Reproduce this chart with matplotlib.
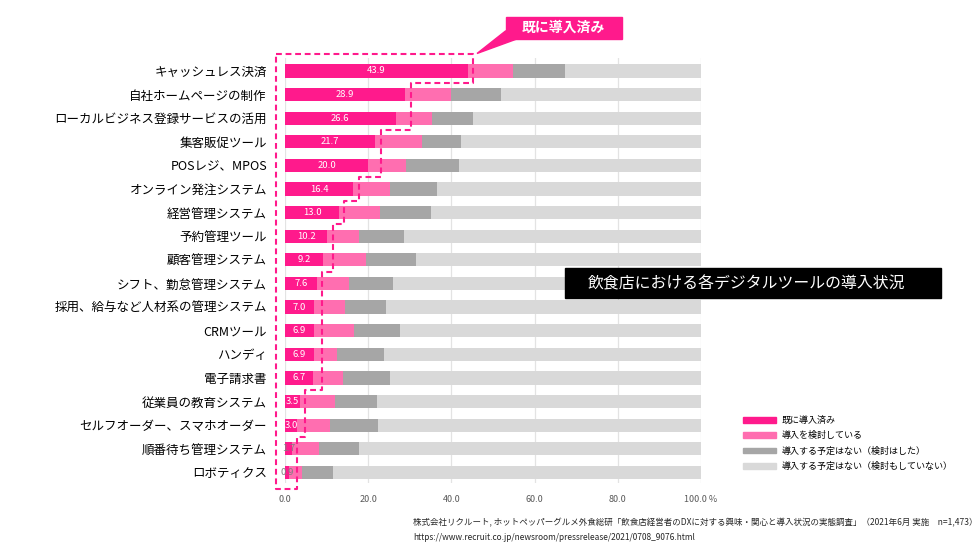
import matplotlib
matplotlib.use('Agg')
import matplotlib.pyplot as plt
import matplotlib.patches as mpatches
import numpy as np

plt.rcParams['font.family'] = ['Noto Sans CJK JP', 'DejaVu Sans']

# Datos (%), de arriba hacia abajo
categorias = [
    'キャッシュレス決済', '自社ホームページの制作', 'ローカルビジネス登録サービスの活用',
    '集客販促ツール', 'POSレジ、MPOS', 'オンライン発注システム', '経営管理システム',
    '予約管理ツール', '顧客管理システム', 'シフト、勤怠管理システム',
    '採用、給与など人材系の管理システム', 'CRMツール', 'ハンディ', '電子請求書',
    '従業員の教育システム', 'セルフオーダー、スマホオーダー', '順番待ち管理システム', 'ロボティクス',
]
ya_introducido = [43.9, 28.9, 26.6, 21.7, 20.0, 16.4, 13.0, 10.2, 9.2, 7.6, 7.0, 6.9, 6.9, 6.7, 3.5, 3.0, 1.7, 0.9]
considerando = [11.0, 11.0, 8.8, 11.2, 9.2, 8.9, 9.9, 7.6, 10.2, 7.8, 7.5, 9.8, 5.7, 7.3, 8.6, 7.7, 6.5, 3.2]
sin_plan_evaluado = [12.3, 12.1, 9.8, 9.4, 12.7, 11.3, 12.1, 10.9, 12.1, 10.5, 9.7, 10.9, 11.1, 11.3, 10.0, 11.7, 9.6, 7.4]
sin_plan_no_evaluado = [32.8, 48.0, 54.8, 57.7, 58.1, 63.4, 65.0, 71.3, 68.5, 74.1, 75.8, 72.4, 76.3, 74.7, 77.9, 77.6, 82.2, 88.5]

series_nombres = ['既に導入済み', '導入を検討している', '導入する予定はない（検討はした）', '導入する予定はない（検討もしていない）']
colores = ['#FF1A8C', '#FF6EB0', '#A6A6A6', '#D9D9D9']

# Grupos de filas para el contorno punteado (escalones)
grupos_contorno = [[0], [1, 2], [3, 4], [5], [6], [7, 8], [9, 10, 11, 12, 13], [14, 15], [16, 17]]

W, H = 980, 551
fig = plt.figure(figsize=(W / 100, H / 100), dpi=100)
ax = fig.add_axes([285 / W, 68 / H, 416 / W, 425 / H])

y = np.arange(len(categorias))
izquierda = np.zeros(len(categorias))
for valores, color, nombre in zip(
        [ya_introducido, considerando, sin_plan_evaluado, sin_plan_no_evaluado], colores, series_nombres):
    ax.barh(y, valores, left=izquierda, height=0.56, color=color, label=nombre, zorder=2)
    izquierda = izquierda + np.array(valores)

# Etiquetas de valor dentro del primer segmento
for yi, v in zip(y, ya_introducido):
    color_txt = 'white' if v >= 3 else '#7F7F7F'
    ax.text(v / 2, yi, f'{v:.1f}', ha='center', va='center', fontsize=6.8,
            color=color_txt, zorder=3)

ax.set_xlim(0, 100)
ax.set_ylim(17.45, -0.55)
ax.set_xticks([0, 20, 40, 60, 80, 100])
ax.set_xticklabels(['0.0', '20.0', '40.0', '60.0', '80.0', '100.0 %'], fontsize=6.5, color='#595959')
ax.set_yticks(y)
ax.set_yticklabels(categorias, fontsize=9, color='black')
ax.tick_params(axis='both', length=0)
ax.tick_params(axis='x', pad=9)
ax.tick_params(axis='y', pad=13)
for s in ax.spines.values():
    s.set_visible(False)
ax.grid(True, axis='x', color='#E3E3E3', linewidth=0.9, zorder=0)
ax.set_axisbelow(True)

# Contorno punteado alrededor de "既に導入済み"
relleno = 1.3
tope, fondo, borde_izq = -0.72, 17.7, -2.2
xs = [borde_izq]
ys = [tope]
for i, grupo in enumerate(grupos_contorno):
    xg = max(ya_introducido[j] for j in grupo) + relleno
    y_ini = tope if i == 0 else grupo[0] - 0.5
    y_fin = fondo if i == len(grupos_contorno) - 1 else grupo[-1] + 0.5
    xs += [xg, xg]
    ys += [y_ini, y_fin]
xs += [borde_izq, borde_izq]
ys += [fondo, tope]
ax.plot(xs, ys, color=colores[0], linewidth=1.5, linestyle=(0, (2.8, 1.8)),
        clip_on=False, zorder=4)

# Globo "既に導入済み"
def px(x, yy):
    return (x / W, 1 - yy / H)

fig.patches.append(mpatches.Rectangle(px(505.5, 39.3), 116.5 / W, 22.6 / H,
                                      transform=fig.transFigure, color=colores[0], zorder=5))
fig.patches.append(mpatches.Polygon([px(505.5, 31), px(477, 53.5), px(516, 39.3)],
                                    closed=True, transform=fig.transFigure, color=colores[0], zorder=5))
fig.text(563.5 / W, 1 - 28 / H, '既に導入済み', ha='center', va='center', fontsize=10,
         fontweight='bold', color='white', zorder=6)

# Caja de título
fig.patches.append(mpatches.Rectangle(px(565, 298.3), 375.5 / W, 30 / H,
                                      transform=fig.transFigure, color='black', zorder=5))
fig.text(746 / W, 1 - 283.5 / H, '飲食店における各デジタルツールの導入状況', ha='center', va='center',
         fontsize=11.4, color='white', zorder=6)

# Leyenda
handles = [mpatches.Patch(color=c, label=n) for c, n in zip(colores, series_nombres)]
fig.legend(handles=handles, loc='upper left', bbox_to_anchor=(743 / W, 1 - 416 / H),
           frameon=False, fontsize=6.5, handlelength=3.6, handleheight=0.6,
           handletextpad=0.7, labelspacing=0.68, borderpad=0, borderaxespad=0)

# Fuente
fig.text(413 / W, 1 - 523 / H,
         '株式会社リクルート, ホットペッパーグルメ外食総研「飲食店経営者のDXに対する興味・関心と導入状況の実態調査」（2021年6月 実施　n=1,473）',
         ha='left', va='center', fontsize=6.1, color='#262626')
fig.text(413 / W, 1 - 538 / H, 'https://www.recruit.co.jp/newsroom/pressrelease/2021/0708_9076.html',
         ha='left', va='center', fontsize=6.0, color='#262626')

fig.savefig('out.png', dpi=100)
